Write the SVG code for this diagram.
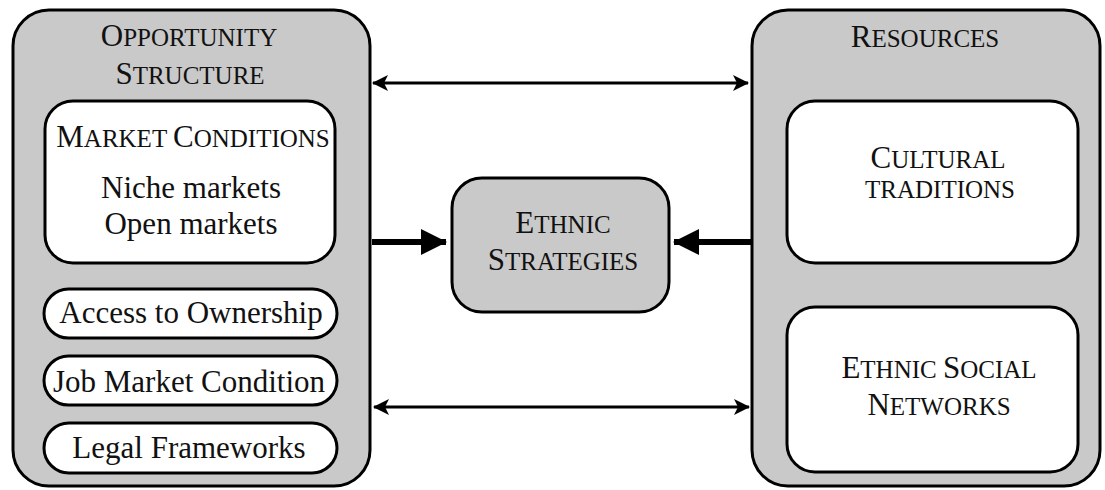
<svg xmlns="http://www.w3.org/2000/svg" width="1105" height="490" viewBox="0 0 1105 490">
<style>
text{font-family:"Liberation Serif","Times New Roman",serif;fill:#111;text-anchor:middle}
.big{font-size:31px}
.sm{font-size:25px}
.t{font-size:31px}
.gray{fill:#c9c9c9;stroke:#000;stroke-width:3}
.white{fill:#fff;stroke:#000;stroke-width:3}
.thin{stroke:#000;stroke-width:3;fill:none}
.thick{stroke:#000;stroke-width:6;fill:none}
</style>
<defs>
<marker id="ah" viewBox="0 0 16 16" refX="15" refY="8" markerWidth="16" markerHeight="16" markerUnits="userSpaceOnUse" orient="auto-start-reverse">
<path d="M0,0 L16,8 L0,16 L4,8 Z" fill="#000"/>
</marker>
<marker id="bh" viewBox="0 0 26 26" refX="25" refY="13" markerWidth="26" markerHeight="26" markerUnits="userSpaceOnUse" orient="auto">
<path d="M0,0 L26,13 L0,26 Z" fill="#000"/>
</marker>
</defs>
<g id="opportunity">
<rect class="gray" x="13" y="10" width="357" height="476" rx="36"/>
<text x="189" y="46"><tspan class="big">O</tspan><tspan class="sm">PPORTUNITY</tspan></text>
<text x="190" y="84"><tspan class="big">S</tspan><tspan class="sm">TRUCTURE</tspan></text>
</g>
<g id="market">
<rect class="white" x="45" y="101" width="290" height="162" rx="28"/>
<text x="193" y="147"><tspan class="big">M</tspan><tspan class="sm">ARKET </tspan><tspan class="big">C</tspan><tspan class="sm">ONDITIONS</tspan></text>
<text class="t" x="191" y="198">Niche markets</text>
<text class="t" x="191" y="234">Open markets</text>
</g>
<g id="access">
<rect class="white" x="44" y="289" width="293" height="49" rx="24.5"/>
<text class="t" x="191" y="323">Access to Ownership</text>
</g>
<g id="job">
<rect class="white" x="44" y="356" width="293" height="49" rx="24.5"/>
<text class="t" x="189" y="392">Job Market Condition</text>
</g>
<g id="legal">
<rect class="white" x="44" y="423" width="293" height="50" rx="25"/>
<text class="t" x="189" y="458">Legal Frameworks</text>
</g>
<g id="resources">
<rect class="gray" x="752" y="10" width="348" height="476" rx="36"/>
<text x="925" y="47"><tspan class="big">R</tspan><tspan class="sm">ESOURCES</tspan></text>
</g>
<g id="cultural">
<rect class="white" x="787" y="101" width="291" height="162" rx="28"/>
<text x="938" y="168"><tspan class="big">C</tspan><tspan class="sm">ULTURAL</tspan></text>
<text x="940" y="198"><tspan class="sm">TRADITIONS</tspan></text>
</g>
<g id="networks">
<rect class="white" x="787" y="307" width="291" height="165" rx="28"/>
<text x="939" y="378"><tspan class="big">E</tspan><tspan class="sm">THNIC </tspan><tspan class="big">S</tspan><tspan class="sm">OCIAL</tspan></text>
<text x="939" y="415"><tspan class="big">N</tspan><tspan class="sm">ETWORKS</tspan></text>
</g>
<g id="strategies">
<rect class="gray" x="452" y="178" width="217" height="134" rx="30"/>
<text x="563" y="233"><tspan class="big">E</tspan><tspan class="sm">THNIC</tspan></text>
<text x="563" y="270"><tspan class="big">S</tspan><tspan class="sm">TRATEGIES</tspan></text>
</g>
<g id="connectors">
<line class="thin" x1="373" y1="83" x2="748" y2="83" marker-start="url(#ah)" marker-end="url(#ah)"/>
<line class="thin" x1="374" y1="407" x2="749" y2="407" marker-start="url(#ah)" marker-end="url(#ah)"/>
<line class="thick" x1="372" y1="242" x2="446" y2="242" marker-end="url(#bh)"/>
<line class="thick" x1="751" y1="242" x2="674" y2="242" marker-end="url(#bh)"/>
</g>
</svg>
